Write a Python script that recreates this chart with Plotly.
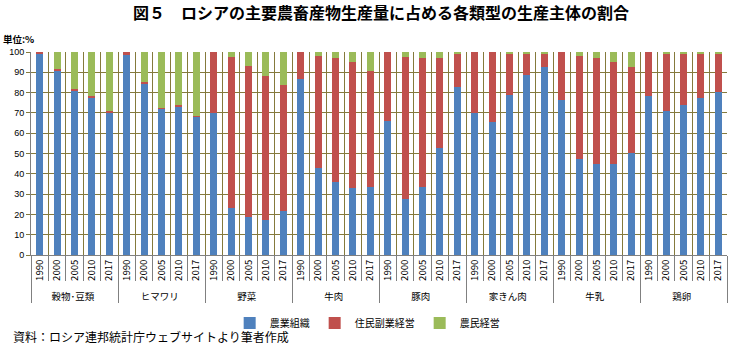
import plotly.graph_objects as go

groups = ["穀物･豆類", "ヒマワリ", "野菜", "牛肉", "豚肉", "家きん肉", "牛乳", "鶏卵"]
years = ["1990", "2000", "2005", "2010", "2017"]

# 農業組織 (agricultural organizations)
agri_org = [
    99.5, 91.0, 80.8, 77.5, 70.0,
    98.3, 84.3, 72.0, 73.0, 68.0,
    69.8, 23.0, 18.5, 17.4, 21.5,
    86.7, 43.0, 36.0, 32.8, 33.3,
    66.0, 27.6, 33.3, 52.5, 82.6,
    69.9, 65.5, 79.0, 88.5, 92.6,
    76.5, 47.3, 45.0, 45.0, 50.2,
    78.5, 70.9, 73.9, 77.2, 80.1,
]
# 住民副業経営 (household plots)
household = [
    0.5, 0.7, 0.8, 0.8, 0.8,
    1.7, 1.0, 0.6, 0.8, 0.6,
    30.2, 74.7, 74.8, 70.9, 62.4,
    13.3, 55.2, 61.2, 62.4, 57.5,
    34.0, 70.1, 63.9, 44.4, 16.3,
    30.1, 34.5, 20.2, 10.7, 6.3,
    23.5, 50.9, 51.9, 50.2, 42.2,
    21.5, 28.6, 25.3, 22.0, 18.8,
]
# 農民経営 (peasant farms)
farmers = [
    0.0, 8.3, 18.4, 21.7, 29.2,
    0.0, 14.7, 27.4, 26.2, 31.4,
    0.0, 2.3, 6.7, 11.7, 16.1,
    0.0, 1.8, 2.8, 4.8, 9.2,
    0.0, 2.3, 2.8, 3.1, 1.1,
    0.0, 0.0, 0.8, 0.8, 1.1,
    0.0, 1.8, 3.1, 4.8, 7.6,
    0.0, 0.5, 0.8, 0.8, 1.1,
]

series_names = ["農業組織", "住民副業経営", "農民経営"]
series_colors = ["#4F81BD", "#C0504D", "#9BBB59"]

x_outer = [g for g in groups for _ in years]
x_inner = [y for _ in groups for y in years]

JP = "Noto Sans CJK JP, Liberation Sans, Arial, sans-serif"
GRID = "#857a3c"

fig = go.Figure()
for name, vals, col in zip(series_names, [agri_org, household, farmers], series_colors):
    fig.add_trace(go.Bar(
        x=[x_outer, x_inner], y=vals, name=name,
        marker=dict(color=col, line=dict(width=0)),
    ))

fig.update_layout(
    barmode="stack",
    bargap=0.6,
    width=729, height=346,
    margin=dict(l=31, r=2, t=52, b=91),
    paper_bgcolor="white", plot_bgcolor="white",
    font=dict(family=JP, size=10, color="#000000"),
    showlegend=True,
    legend=dict(
        orientation="h", traceorder="normal",
        x=0.483, xanchor="center", y=-0.335, yanchor="middle",
        font=dict(size=10, family=JP), itemwidth=30, tracegroupgap=0,
        bgcolor="rgba(0,0,0,0)",
    ),
    xaxis=dict(
        type="multicategory",
        tickangle=-90,
        tickson="boundaries",
        showgrid=True, gridcolor=GRID, gridwidth=1,
        ticks="outside", ticklen=25, tickcolor="#808080",
        showline=True, linecolor="#808080", linewidth=1,
        showdividers=True, dividercolor="#808080", dividerwidth=1,
        tickfont=dict(size=9.5, family=JP),
        mirror=False,
    ),
    yaxis=dict(
        range=[0, 100], dtick=10,
        showgrid=True, gridcolor=GRID, gridwidth=1,
        ticks="outside", ticklen=4, tickcolor=GRID,
        showline=True, linecolor="#808080", linewidth=1,
        zeroline=False,
        tickfont=dict(size=9, family="Liberation Sans, Arial, sans-serif"),
    ),
    annotations=[
        dict(text="<b>図５　ロシアの主要農畜産物生産量に占める各類型の生産主体の割合</b>",
             xref="paper", yref="paper", x=0.503, y=1.0, yshift=40,
             xanchor="center", yanchor="middle", showarrow=False,
             font=dict(size=16, family=JP)),
        dict(text="<b>単位:%</b>", xref="paper", yref="paper", x=0, xshift=-30,
             y=1.0, yshift=13, xanchor="left", yanchor="middle", showarrow=False,
             font=dict(size=9.5, family=JP)),
        dict(text="資料：ロシア連邦統計庁ウェブサイトより筆者作成",
             xref="paper", yref="paper", x=0, xshift=-20, y=0, yshift=-81,
             xanchor="left", yanchor="middle", showarrow=False,
             font=dict(size=12, family=JP)),
    ],
)

fig.write_html("out.html")
